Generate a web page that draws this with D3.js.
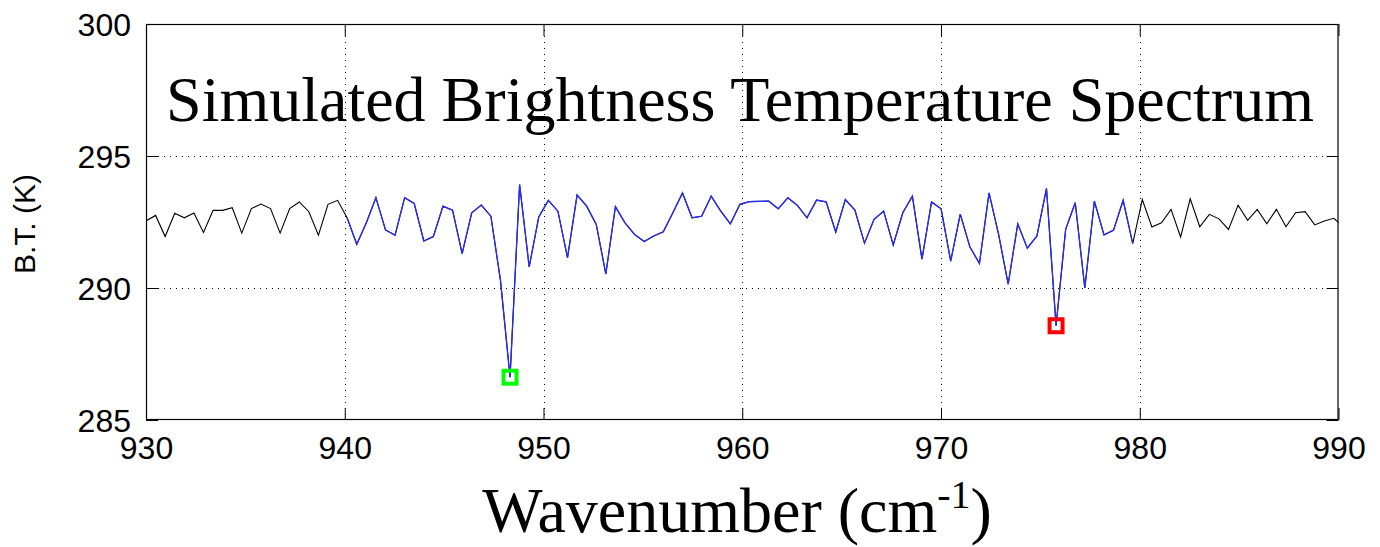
<!DOCTYPE html>
<html>
<head>
<meta charset="utf-8">
<script src="https://cdn.jsdelivr.net/npm/d3@7"></script>
<style>
  html, body { margin: 0; padding: 0; background: #fff; }
  svg { display: block; }
</style>
</head>
<body>
<svg id="chart" width="1380" height="547"></svg>
<script>
// ---- data ----
const wavenumbers = [
  930.000, 930.482, 930.964, 931.446, 931.928, 932.410, 932.892, 933.374, 933.856, 934.338,
  934.820, 935.302, 935.784, 936.266, 936.748, 937.230, 937.712, 938.194, 938.676, 939.158,
  939.640, 940.122, 940.604, 941.086, 941.568, 942.050, 942.532, 943.014, 943.496, 943.978,
  944.460, 944.942, 945.424, 945.906, 946.388, 946.870, 947.352, 947.834, 948.316, 948.798,
  949.280, 949.762, 950.244, 950.726, 951.208, 951.690, 952.172, 952.654, 953.136, 953.618,
  954.100, 954.582, 955.064, 955.546, 956.028, 956.510, 956.992, 957.474, 957.956, 958.438,
  958.920, 959.402, 959.884, 960.366, 960.848, 961.330, 961.812, 962.294, 962.776, 963.258,
  963.740, 964.222, 964.704, 965.186, 965.668, 966.150, 966.632, 967.114, 967.596, 968.078,
  968.560, 969.042, 969.524, 970.006, 970.488, 970.970, 971.452, 971.934, 972.416, 972.898,
  973.380, 973.862, 974.344, 974.826, 975.308, 975.790, 976.272, 976.754, 977.236, 977.718,
  978.200, 978.682, 979.164, 979.646, 980.128, 980.610, 981.092, 981.574, 982.056, 982.538,
  983.020, 983.502, 983.984, 984.466, 984.948, 985.430, 985.912, 986.394, 986.876, 987.358,
  987.840, 988.322, 988.804, 989.286, 989.768, 990.250
];
const brightnessTemp = [
  292.54, 292.75, 291.95, 292.83, 292.66, 292.84, 292.10, 292.94, 292.94, 293.04,
  292.08, 293.01, 293.18, 293.01, 292.08, 293.01, 293.26, 292.89, 292.00, 293.17,
  293.32, 292.65, 291.66, 292.47, 293.42, 292.20, 292.00, 293.42, 293.20, 291.78,
  291.95, 293.10, 292.95, 291.30, 292.85, 293.14, 292.72, 290.30, 286.62, 293.92,
  290.80, 292.69, 293.32, 292.91, 291.15, 293.52, 293.10, 292.41, 290.53, 293.08,
  292.47, 292.03, 291.76, 291.97, 292.13, 292.85, 293.60, 292.66, 292.72, 293.48,
  292.91, 292.43, 293.17, 293.27, 293.28, 293.29, 293.00, 293.42, 293.13, 292.66,
  293.33, 293.26, 292.12, 293.35, 292.95, 291.70, 292.60, 292.91, 291.63, 292.85,
  293.48, 291.09, 293.26, 293.00, 291.02, 292.80, 291.56, 290.93, 293.60, 292.03,
  290.15, 292.43, 291.51, 291.97, 293.77, 288.57, 292.22, 293.23, 290.00, 293.29,
  292.01, 292.19, 293.32, 291.68, 293.35, 292.31, 292.47, 292.98, 291.93, 293.38,
  292.32, 292.79, 292.62, 292.22, 293.14, 292.56, 292.98, 292.43, 292.98, 292.32,
  292.85, 292.89, 292.39, 292.54, 292.64, 292.30
];
// highlighted (blue) window of the spectrum, in wavenumber
const highlightRange = [940.1, 979.7];
// marked channels
const markerWavenumbers = [948.316, 975.790];
const markerBT = [286.62, 288.57];
const markerColors = ["#00ff00", "#ff0000"];
// axes
const xDomain = [930, 990];
const yDomain = [285, 300];
const xTicks = [930, 940, 950, 960, 970, 980, 990];
const yTicks = [285, 290, 295, 300];
const titleText = "Simulated Brightness Temperature Spectrum";
const yLabelText = "B.T. (K)";

// ---- drawing ----
const svg = d3.select("#chart");
const pL = 146, pR = 1338.5, pT = 24, pB = 420;

const x = d3.scaleLinear().domain(xDomain).range([pL, pR]);
const y = d3.scaleLinear().domain(yDomain).range([pB, pT]);

svg.append("defs").append("clipPath").attr("id", "clip")
  .append("rect").attr("x", pL).attr("y", pT)
  .attr("width", pR - pL).attr("height", pB - pT);

// grid
const grid = svg.append("g").attr("shape-rendering", "crispEdges");
grid.selectAll("line.vg").data(xTicks.filter(d => d > xDomain[0] && d < xDomain[1]))
  .enter().append("line")
  .attr("x1", d => Math.round(x(d)) + 0.5).attr("x2", d => Math.round(x(d)) + 0.5)
  .attr("y1", pT).attr("y2", pB)
  .attr("stroke", "#000").attr("stroke-width", 1).attr("stroke-dasharray", "1,5");
grid.selectAll("line.hg").data(yTicks.filter(d => d > yDomain[0] && d < yDomain[1]))
  .enter().append("line")
  .attr("y1", d => Math.round(y(d)) + 0.5).attr("y2", d => Math.round(y(d)) + 0.5)
  .attr("x1", pL).attr("x2", pR)
  .attr("stroke", "#000").attr("stroke-width", 1).attr("stroke-dasharray", "1,5");

// axes via d3 axis (inward ticks), labels styled
const fontSans = "'Liberation Sans', Arial, Helvetica, sans-serif";
const xAxis = svg.append("g").attr("transform", `translate(0,${pB})`)
  .call(d3.axisBottom(x).tickValues(xTicks).tickSizeInner(-12).tickSizeOuter(0).tickPadding(16)
    .tickFormat(d3.format("d")));
const yAxis = svg.append("g").attr("transform", `translate(${pL},0)`)
  .call(d3.axisLeft(y).tickValues(yTicks).tickSizeInner(-12).tickSizeOuter(0).tickPadding(15)
    .tickFormat(d3.format("d")));
const xAxisTop = svg.append("g").attr("transform", `translate(0,${pT})`)
  .call(d3.axisTop(x).tickValues(xTicks).tickSizeInner(-12).tickSizeOuter(0).tickFormat(""));
const yAxisRight = svg.append("g").attr("transform", `translate(${pR},0)`)
  .call(d3.axisRight(y).tickValues(yTicks).tickSizeInner(-12).tickSizeOuter(0).tickFormat(""));
[xAxis, yAxis, xAxisTop, yAxisRight].forEach(g => {
  g.select(".domain").remove();
  g.selectAll(".tick line").attr("stroke", "#000").attr("stroke-width", 1);
  g.selectAll("text").attr("font-family", fontSans).attr("font-size", 32).attr("fill", "#000");
});
yAxis.selectAll("text").attr("dy", "0.36em");

// frame
svg.append("rect").attr("x", pL + 0.5).attr("y", pT + 0.5)
  .attr("width", pR - pL - 1).attr("height", pB - pT - 1)
  .attr("fill", "none").attr("stroke", "#000").attr("stroke-width", 1.2);

// lines
const plot = svg.append("g").attr("clip-path", "url(#clip)");
const pts = wavenumbers.map((w, i) => [w, brightnessTemp[i]]);
const line = d3.line().x(d => x(d[0])).y(d => y(d[1]));
plot.append("path").datum(pts).attr("d", line)
  .attr("fill", "none").attr("stroke", "#000").attr("stroke-width", 1.1)
  .attr("stroke-linejoin", "miter");
plot.append("path")
  .datum(pts.filter(d => d[0] >= highlightRange[0] && d[0] <= highlightRange[1]))
  .attr("d", line)
  .attr("fill", "none").attr("stroke", "#2a2aff").attr("stroke-width", 1.3)
  .attr("stroke-linejoin", "miter");

// markers
svg.selectAll("rect.mk").data(markerWavenumbers).enter().append("rect")
  .attr("x", (d) => x(d) - 6.5)
  .attr("y", (d, i) => y(markerBT[i]) - 6.5)
  .attr("width", 13).attr("height", 13)
  .attr("fill", "none")
  .attr("stroke", (d, i) => markerColors[i])
  .attr("stroke-width", 4);

// title (inside axes)
svg.append("text").attr("x", 740).attr("y", 121)
  .attr("text-anchor", "middle")
  .attr("font-family", "'Liberation Serif', 'Times New Roman', Times, serif")
  .attr("font-size", 64).attr("fill", "#000")
  .text(titleText);

// x label with superscript
const xl = svg.append("text").attr("x", 737).attr("y", 532)
  .attr("text-anchor", "middle")
  .attr("font-family", "'Liberation Serif', 'Times New Roman', Times, serif")
  .attr("font-size", 64).attr("fill", "#000");
xl.append("tspan").text("Wavenumber (cm");
xl.append("tspan").attr("font-size", 40).attr("dy", -24).text("-1");
xl.append("tspan").attr("dy", 24).text(")");

// y label
svg.append("text")
  .attr("transform", `translate(35,${(pT + pB) / 2 + 2}) rotate(-90)`)
  .attr("text-anchor", "middle")
  .attr("font-family", fontSans)
  .attr("font-size", 30).attr("fill", "#000")
  .text(yLabelText);
</script>
</body>
</html>
